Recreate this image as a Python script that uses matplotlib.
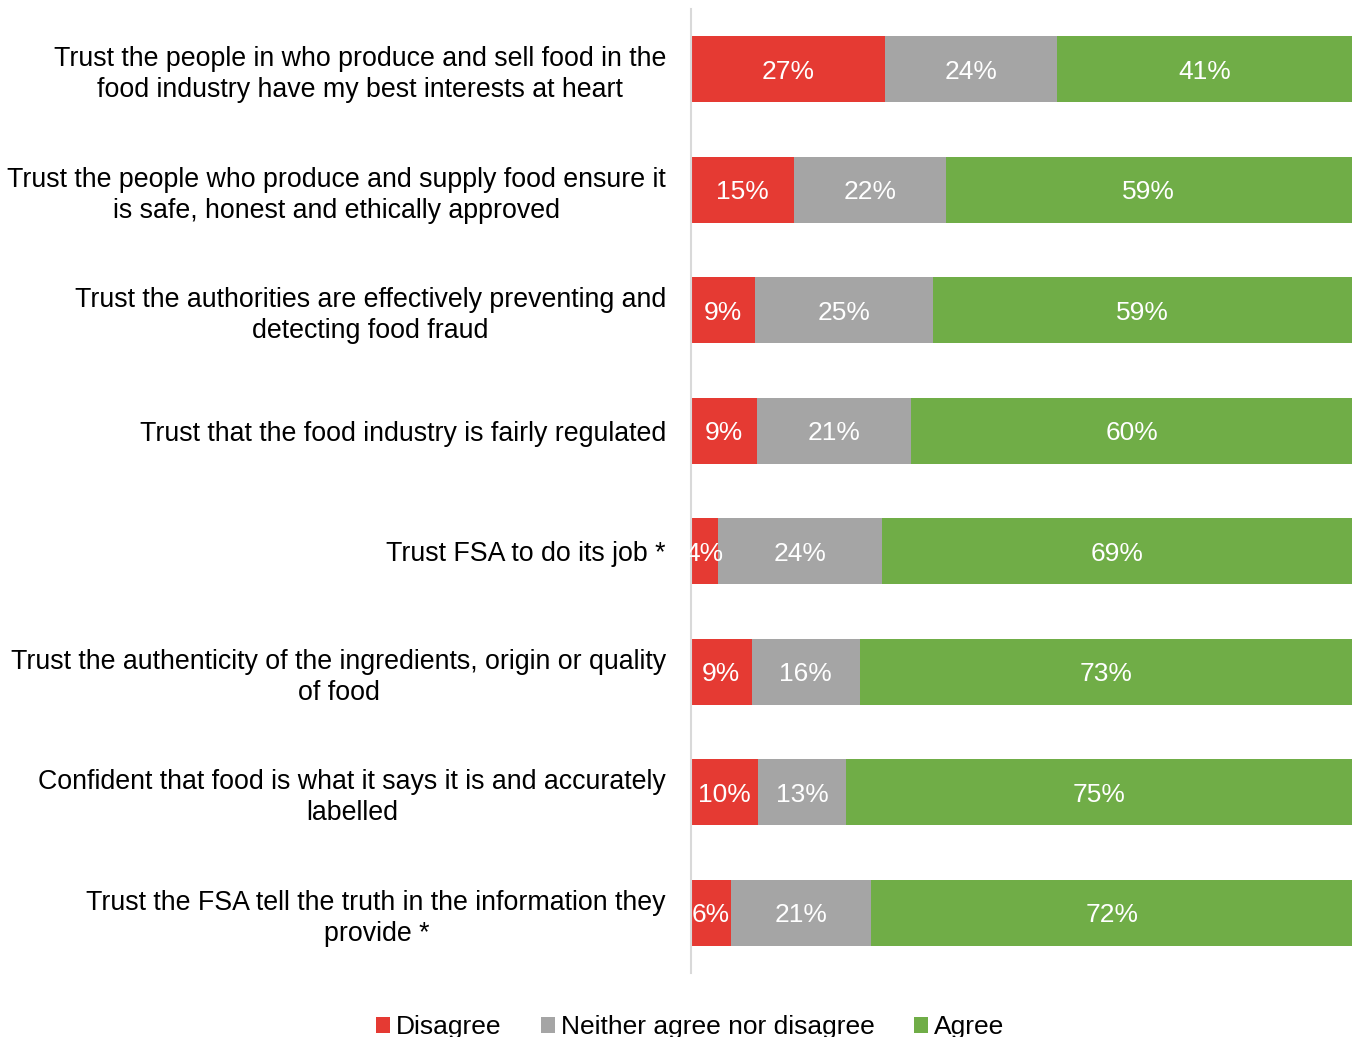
import matplotlib
matplotlib.use("Agg")
import matplotlib.pyplot as plt
import numpy as np

plt.rcParams['font.family'] = ['Liberation Sans', 'DejaVu Sans']

categories = [
    "Trust the people in who produce and sell food in the\nfood industry have my best interests at heart",
    "Trust the people who produce and supply food ensure it\nis safe, honest and ethically approved",
    "Trust the authorities are effectively preventing and\ndetecting food fraud",
    "Trust that the food industry is fairly regulated",
    "Trust FSA to do its job *",
    "Trust the authenticity of the ingredients, origin or quality\nof food",
    "Confident that food is what it says it is and accurately\nlabelled",
    "Trust the FSA tell the truth in the information they\nprovide *",
]
disagree = [27, 15, 9, 9, 4, 9, 10, 6]
neither = [24, 22, 25, 21, 24, 16, 13, 21]
agree = [41, 59, 59, 60, 69, 73, 75, 72]

series_names = ["Disagree", "Neither agree nor disagree", "Agree"]
colors = ["#E53A33", "#A5A5A5", "#70AD47"]

data = np.array([disagree, neither, agree], dtype=float)
totals = data.sum(axis=0)
norm = data / totals * 100

fig = plt.figure(figsize=(13.57, 10.37), dpi=100)
ax = fig.add_axes([691/1357, 1 - 973/1037, (1352-691)/1357, (973-9)/1037])

y = np.arange(len(categories))
left = np.zeros(len(categories))
for i, (name, col) in enumerate(zip(series_names, colors)):
    ax.barh(y, norm[i], left=left, height=0.55, color=col, label=name)
    for j in range(len(categories)):
        ax.text(left[j] + norm[i][j] / 2, y[j], f"{int(data[i][j])}%",
                ha='center', va='center_baseline', color='white', fontsize=19)
    left += norm[i]

ax.set_xlim(0, 100)
ax.set_ylim(len(categories) - 0.5, -0.5)
ax.set_yticks(y)
ax.set_yticklabels(categories, fontsize=19.3, multialignment='center',
                   linespacing=1.25, va='center_baseline')
ax.tick_params(axis='y', length=0, pad=18)
ax.xaxis.set_visible(False)
for s in ['top', 'right', 'bottom']:
    ax.spines[s].set_visible(False)
ax.spines['left'].set_color('#D9D9D9')
ax.spines['left'].set_linewidth(1.5)

fig.legend(loc='center', bbox_to_anchor=(690/1357, 1 - 1027/1037), ncol=3,
           frameon=False, fontsize=19, handlelength=0.55, handleheight=0.55,
           handletextpad=0.2, columnspacing=1.5)

fig.savefig("out.png", dpi=100)
